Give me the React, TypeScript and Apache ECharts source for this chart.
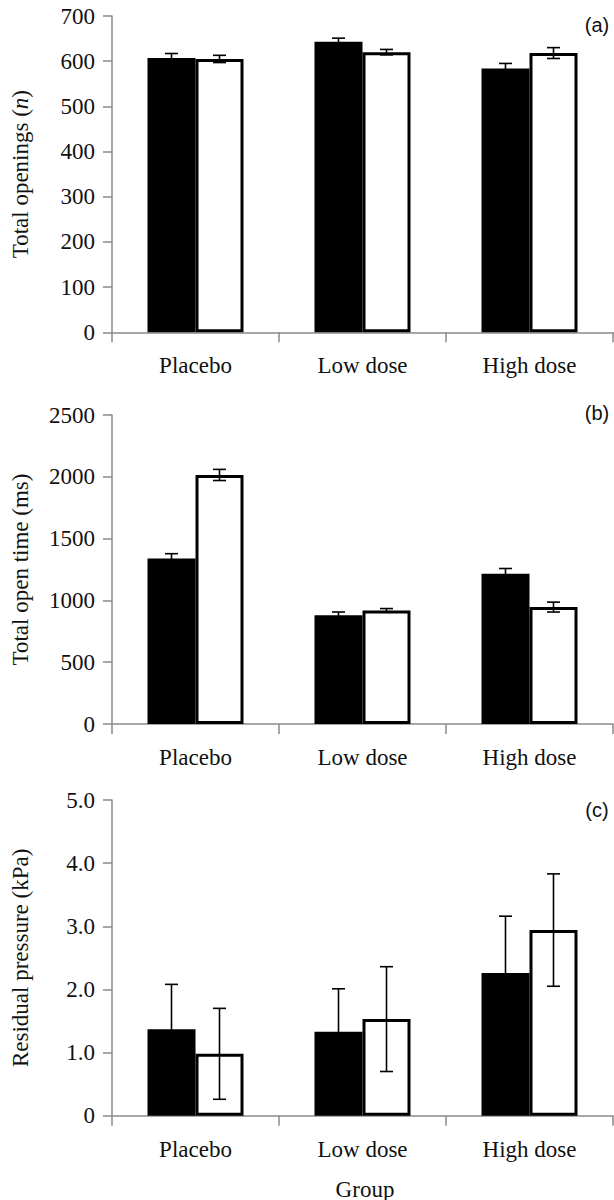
import React, { useEffect, useRef } from "react";
import * as echarts from "echarts";

const categories = ["Placebo", "Low dose", "High dose"];

const openingsBlack = [607, 643, 584];
const openingsBlackErr = [10, 8, 11];
const openingsWhite = [605, 620, 618];
const openingsWhiteErr = [8, 6, 12];

const openTimeBlack = [1340, 879, 1215];
const openTimeBlackErr = [38, 27, 43];
const openTimeWhite = [2015, 919, 946];
const openTimeWhiteErr = [45, 15, 40];

const pressureBlack = [1.37, 1.33, 2.26];
const pressureBlackErr = [0.71, 0.68, 0.9];
const pressureWhite = [0.98, 1.53, 2.94];
const pressureWhiteErr = [0.72, 0.83, 0.89];

const yMax = [700, 2500, 5];
const yInterval = [100, 500, 1];
const yTitles = [
  "{t|Total openings (}{i|n}{t|)}",
  "{t|Total open time (ms)}",
  "{t|Residual pressure (kPa)}",
];
const panelLetters = ["(a)", "(b)", "(c)"];

const SERIF = "Liberation Serif";
const SANS = "Liberation Sans";
const BAR_W = 48;
const AXIS_COLOR = "#8a8a8a";
const FS = 23;

export default function App() {
  const ref = useRef<HTMLDivElement>(null);

  useEffect(() => {
    if (!ref.current) return;
    const chart = echarts.init(ref.current, undefined, { renderer: "svg" });

    const grids = [
      { left: 112, right: 1, top: 16, height: 316.3 },
      { left: 112, right: 1, top: 415, height: 309 },
      { left: 112, right: 1, top: 800, height: 315.7 },
    ];

    const panels = [
      [openingsBlack, openingsBlackErr, openingsWhite, openingsWhiteErr],
      [openTimeBlack, openTimeBlackErr, openTimeWhite, openTimeWhiteErr],
      [pressureBlack, pressureBlackErr, pressureWhite, pressureWhiteErr],
    ];

    const xAxis = grids.map((_, i) => ({
      type: "category",
      gridIndex: i,
      data: categories,
      axisLine: { lineStyle: { color: AXIS_COLOR, width: 1.5 } },
      axisTick: { show: true, length: 10, lineStyle: { color: AXIS_COLOR, width: 1.5 } },
      axisLabel: { color: "#111", fontFamily: SERIF, fontSize: FS, margin: 22 },
    }));

    const yAxis = grids.map((_, i) => ({
      type: "value",
      gridIndex: i,
      min: 0,
      max: yMax[i],
      interval: yInterval[i],
      splitLine: { show: false },
      axisLine: { show: true, lineStyle: { color: AXIS_COLOR, width: 1.5 } },
      axisTick: { show: true, length: 9, lineStyle: { color: AXIS_COLOR, width: 1.5 } },
      axisLabel: {
        color: "#111",
        fontFamily: SERIF,
        fontSize: FS,
        margin: 17,
        formatter: (v: number) => (i === 2 ? (v === 0 ? "0" : v.toFixed(1)) : String(v)),
      },
    }));

    const series: any[] = [];
    panels.forEach((p, i) => {
      const [bVals, bErr, wVals, wErr] = p;
      series.push({
        type: "bar",
        name: "Black",
        xAxisIndex: i,
        yAxisIndex: i,
        data: bVals,
        barWidth: BAR_W,
        barGap: "0%",
        itemStyle: { color: "#000" },
        z: 2,
      });
      series.push({
        type: "bar",
        name: "White",
        xAxisIndex: i,
        yAxisIndex: i,
        data: wVals,
        barWidth: BAR_W,
        barGap: "0%",
        itemStyle: { color: "#fff", borderColor: "#000", borderWidth: 3 },
        z: 2,
      });
      [
        [bVals, bErr, -BAR_W / 2],
        [wVals, wErr, BAR_W / 2],
      ].forEach(([vals, errs, off]: any) => {
        series.push({
          type: "custom",
          xAxisIndex: i,
          yAxisIndex: i,
          z: 5,
          data: vals.map((v: number, k: number) => [k, v, errs[k]]),
          renderItem: (params: any, api: any) => {
            const k = api.value(0);
            const v = api.value(1);
            const e = api.value(2);
            const top = api.coord([k, v + e]);
            const bot = api.coord([k, v - e]);
            const x = top[0] + off;
            const cw = 6.5;
            const st = { stroke: "#000", lineWidth: 1.6 };
            return {
              type: "group",
              children: [
                { type: "line", shape: { x1: x, y1: top[1], x2: x, y2: bot[1] }, style: st },
                { type: "line", shape: { x1: x - cw, y1: top[1], x2: x + cw, y2: top[1] }, style: st },
                { type: "line", shape: { x1: x - cw, y1: bot[1], x2: x + cw, y2: bot[1] }, style: st },
              ],
            };
          },
        });
      });
    });

    const titleCenters = [
      16 + 316.3 / 2,
      415 + 309 / 2,
      800 + 315.7 / 2,
    ];
    const letterY = [25, 413, 810];

    const graphic: any[] = [];
    titleCenters.forEach((cy, i) => {
      graphic.push({
        type: "text",
        x: 20,
        y: cy,
        rotation: Math.PI / 2,
        style: {
          text: yTitles[i],
          align: "center",
          verticalAlign: "middle",
          rich: {
            t: { fontFamily: SERIF, fontSize: FS, fill: "#111" },
            i: { fontFamily: SERIF, fontSize: FS, fontStyle: "italic", fill: "#111" },
          },
        },
      });
      graphic.push({
        type: "text",
        x: 597,
        y: letterY[i],
        style: {
          text: panelLetters[i],
          align: "center",
          verticalAlign: "middle",
          fontFamily: SANS,
          fontSize: 20,
          fill: "#111",
        },
      });
    });
    graphic.push({
      type: "text",
      x: 365,
      y: 1189,
      style: {
        text: "Group",
        align: "center",
        verticalAlign: "middle",
        fontFamily: SERIF,
        fontSize: FS,
        fill: "#111",
      },
    });

    chart.setOption({
      animation: false,
      backgroundColor: "#fff",
      grid: grids,
      xAxis,
      yAxis,
      series,
      graphic,
    });

    return () => chart.dispose();
  }, []);

  return (
    <div
      ref={ref}
      style={{ position: "absolute", left: 0, top: 0, width: 614, height: 1200 }}
    />
  );
}
